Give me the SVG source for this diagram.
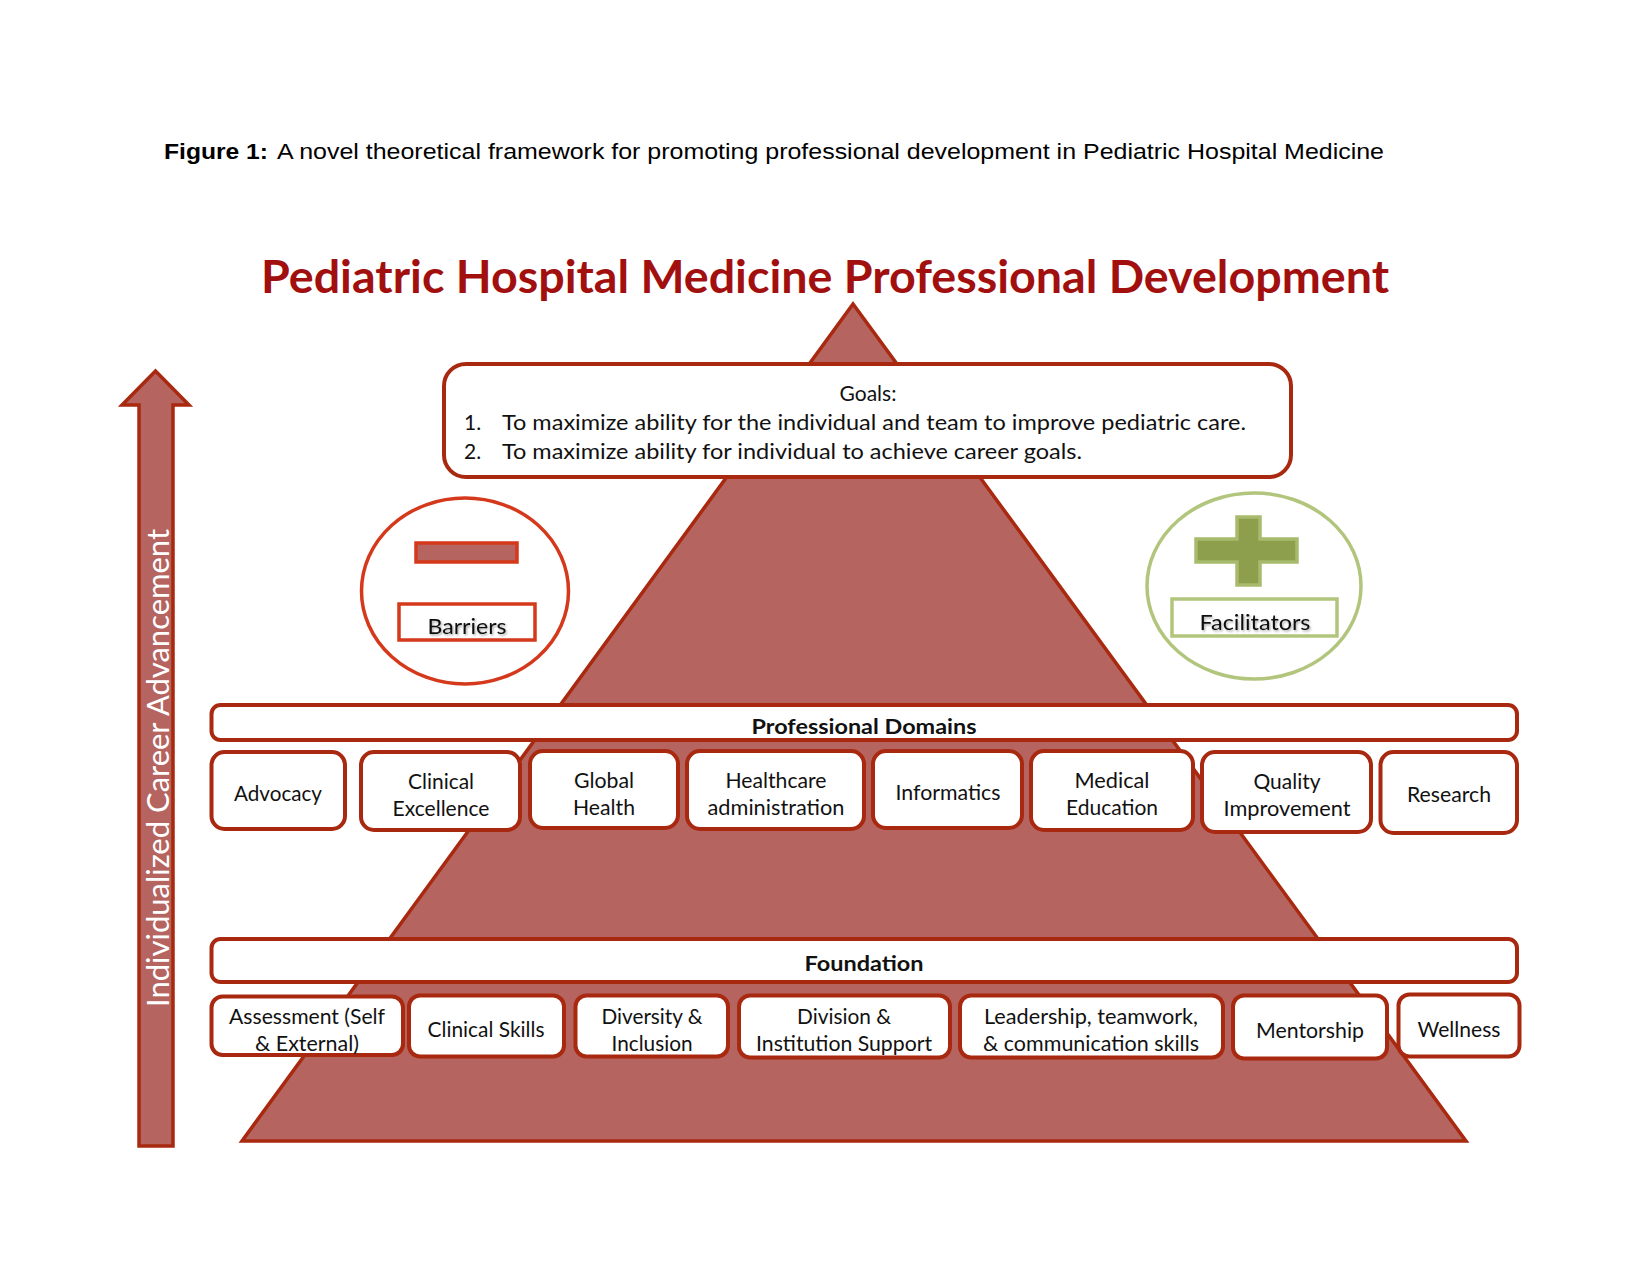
<svg xmlns="http://www.w3.org/2000/svg" width="1650" height="1275" viewBox="0 0 1650 1275">
<defs>
<style>
.cap{font-family:"Liberation Sans",Arial,sans-serif;font-size:22px;fill:#000}
.t{font-family:Lato,"Open Sans",sans-serif;font-size:21px;fill:#111;text-anchor:middle}
.s{text-anchor:start}
.b{font-weight:bold}
.box{fill:#fff;stroke:#A8290F;stroke-width:4}
.pyr{fill:#B5645F;stroke:#A8290F;stroke-width:3.5;stroke-linejoin:miter}
</style>
<filter id="sh" x="-10%" y="-30%" width="120%" height="160%">
<feDropShadow dx="1.2" dy="1.5" stdDeviation="1" flood-color="#000" flood-opacity="0.35"/>
</filter>
</defs>
<rect width="1650" height="1275" fill="#fff"/>
<text class="cap" y="159"><tspan x="164" font-weight="bold" textLength="104" lengthAdjust="spacingAndGlyphs">Figure 1:</tspan><tspan x="277" textLength="1107" lengthAdjust="spacingAndGlyphs">A novel theoretical framework for promoting professional development in Pediatric Hospital Medicine</tspan></text>
<text x="825" y="293" font-family="Lato,'Open Sans',sans-serif" font-size="46" font-weight="bold" fill="#A20F0F" text-anchor="middle" textLength="1128" lengthAdjust="spacingAndGlyphs">Pediatric Hospital Medicine Professional Development</text>

<g id="pyramid">
<polygon class="pyr" points="853,304 242,1141 1466,1141"/>
</g>

<g id="career-arrow">
<polygon class="pyr" points="155.5,371 189,405 173,405 173,1146 139,1146 139,405 122,405"/>
<text transform="translate(169,768) rotate(-90)" x="0" y="0" font-family="Lato,'Open Sans',sans-serif" font-size="30" fill="#fff" text-anchor="middle" textLength="478" lengthAdjust="spacingAndGlyphs">Individualized Career Advancement</text>
</g>

<g id="goals">
<rect class="box" x="444" y="364" width="847" height="113" rx="22"/>
<text class="t" x="868" y="401">Goals:</text>
<text class="t s" x="464" y="430">1.</text>
<text class="t s" x="502" y="430" textLength="744" lengthAdjust="spacingAndGlyphs">To maximize ability for the individual and team to improve pediatric care.</text>
<text class="t s" x="464" y="459">2.</text>
<text class="t s" x="502" y="459" textLength="580" lengthAdjust="spacingAndGlyphs">To maximize ability for individual to achieve career goals.</text>
</g>

<g id="barriers">
<ellipse cx="465" cy="591" rx="103.5" ry="93" fill="#fff" stroke="#D5391B" stroke-width="3.5"/>
<rect x="416" y="543" width="101" height="19" fill="#B5645F" stroke="#D5391B" stroke-width="3.5"/>
<rect x="399" y="604" width="136" height="36" fill="#fff" stroke="#D5391B" stroke-width="3.5"/>
<text class="t" x="467" y="634" font-size="22" filter="url(#sh)" textLength="79" lengthAdjust="spacingAndGlyphs">Barriers</text>
</g>

<g id="facilitators">
<ellipse cx="1254" cy="586" rx="107" ry="93" fill="#fff" stroke="#B2C57C" stroke-width="3.5"/>
<path d="M1237,517 H1260 V539 H1297 V562 H1260 V585 H1237 V562 H1196 V539 H1237 Z" fill="#8D9F4D" stroke="#A8BB6C" stroke-width="3.5"/>
<rect x="1172" y="599" width="165" height="37" fill="#fff" stroke="#B2C57C" stroke-width="3.5"/>
<text class="t" x="1255" y="630" font-size="22" filter="url(#sh)" textLength="111" lengthAdjust="spacingAndGlyphs">Facilitators</text>
</g>

<g id="professional-domains">
<rect class="box" x="211.5" y="705" width="1305.5" height="35" rx="9"/>
<text class="t b" x="864" y="734" textLength="225" lengthAdjust="spacingAndGlyphs">Professional Domains</text>
</g>
<g id="advocacy">
<rect class="box" x="211.5" y="752" width="133.5" height="77" rx="13"/>
<text class="t" x="278" y="801" textLength="88" lengthAdjust="spacingAndGlyphs">Advocacy</text>
</g>
<g id="clinical-excellence">
<rect class="box" x="361" y="752" width="159" height="78" rx="13"/>
<text class="t" x="441" y="789" textLength="66" lengthAdjust="spacingAndGlyphs">Clinical</text>
<text class="t" x="441" y="816" textLength="97" lengthAdjust="spacingAndGlyphs">Excellence</text>
</g>
<g id="global-health">
<rect class="box" x="530" y="751" width="148" height="77" rx="13"/>
<text class="t" x="604" y="788" textLength="60" lengthAdjust="spacingAndGlyphs">Global</text>
<text class="t" x="604" y="815" textLength="62" lengthAdjust="spacingAndGlyphs">Health</text>
</g>
<g id="healthcare-administration">
<rect class="box" x="687" y="751" width="177" height="78" rx="13"/>
<text class="t" x="776" y="788" textLength="101" lengthAdjust="spacingAndGlyphs">Healthcare</text>
<text class="t" x="776" y="815" textLength="137" lengthAdjust="spacingAndGlyphs">administration</text>
</g>
<g id="informatics">
<rect class="box" x="873" y="751" width="149" height="77" rx="13"/>
<text class="t" x="948" y="800" textLength="105" lengthAdjust="spacingAndGlyphs">Informatics</text>
</g>
<g id="medical-education">
<rect class="box" x="1031" y="751" width="162" height="79" rx="13"/>
<text class="t" x="1112" y="788" textLength="75" lengthAdjust="spacingAndGlyphs">Medical</text>
<text class="t" x="1112" y="815" textLength="92" lengthAdjust="spacingAndGlyphs">Education</text>
</g>
<g id="quality-improvement">
<rect class="box" x="1202" y="752" width="169" height="80" rx="13"/>
<text class="t" x="1287" y="789" textLength="67" lengthAdjust="spacingAndGlyphs">Quality</text>
<text class="t" x="1287" y="816" textLength="127" lengthAdjust="spacingAndGlyphs">Improvement</text>
</g>
<g id="research">
<rect class="box" x="1380.5" y="752" width="136.5" height="81" rx="13"/>
<text class="t" x="1449" y="802" textLength="84" lengthAdjust="spacingAndGlyphs">Research</text>
</g>

<g id="foundation">
<rect class="box" x="211.5" y="939" width="1305.5" height="43" rx="9"/>
<text class="t b" x="864" y="971" textLength="119" lengthAdjust="spacingAndGlyphs">Foundation</text>
</g>
<g id="assessment">
<rect class="box" x="211.5" y="996.5" width="191.5" height="58.5" rx="11"/>
<text class="t" x="307" y="1024" textLength="156" lengthAdjust="spacingAndGlyphs">Assessment (Self</text>
<text class="t" x="307" y="1051" textLength="104" lengthAdjust="spacingAndGlyphs">&amp; External)</text>
</g>
<g id="clinical-skills">
<rect class="box" x="409" y="995.5" width="155" height="61" rx="11"/>
<text class="t" x="486" y="1037" textLength="117" lengthAdjust="spacingAndGlyphs">Clinical Skills</text>
</g>
<g id="diversity-inclusion">
<rect class="box" x="575.5" y="995.5" width="152.5" height="61" rx="11"/>
<text class="t" x="652" y="1024" textLength="101" lengthAdjust="spacingAndGlyphs">Diversity &amp;</text>
<text class="t" x="652" y="1051" textLength="81" lengthAdjust="spacingAndGlyphs">Inclusion</text>
</g>
<g id="division-institution-support">
<rect class="box" x="739" y="995.5" width="211" height="62" rx="11"/>
<text class="t" x="844" y="1024" textLength="94" lengthAdjust="spacingAndGlyphs">Division &amp;</text>
<text class="t" x="844" y="1051" textLength="176" lengthAdjust="spacingAndGlyphs">Institution Support</text>
</g>
<g id="leadership">
<rect class="box" x="960" y="995.5" width="263" height="62" rx="11"/>
<text class="t" x="1091" y="1024" textLength="214" lengthAdjust="spacingAndGlyphs">Leadership, teamwork,</text>
<text class="t" x="1091" y="1051" textLength="216" lengthAdjust="spacingAndGlyphs">&amp; communication skills</text>
</g>
<g id="mentorship">
<rect class="box" x="1233" y="995.5" width="154" height="63" rx="11"/>
<text class="t" x="1310" y="1038" textLength="108" lengthAdjust="spacingAndGlyphs">Mentorship</text>
</g>
<g id="wellness">
<rect class="box" x="1398.5" y="994.5" width="121" height="62" rx="11"/>
<text class="t" x="1459" y="1037" textLength="83" lengthAdjust="spacingAndGlyphs">Wellness</text>
</g>
<g id="connectors"></g>
</svg>
